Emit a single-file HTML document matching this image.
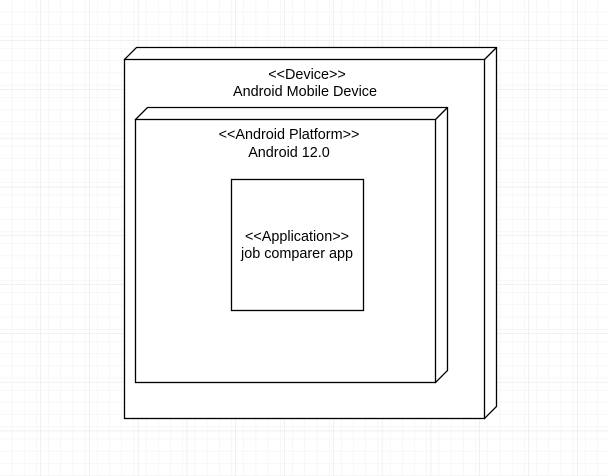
<!DOCTYPE html>
<html><head><meta charset="utf-8"><style>
html,body{margin:0;padding:0;background:#fff;}
svg{display:block;}
text{font-family:"Liberation Sans",Arial,sans-serif;font-size:14.4px;fill:#000;}
</style></head><body>
<svg width="608" height="476" viewBox="0 0 608 476" xmlns="http://www.w3.org/2000/svg">
<defs>
<pattern id="minor" width="12.2" height="12.2" patternUnits="userSpaceOnUse" x="0" y="0">
<path d="M12.2 0V12.2M0 12.2H12.2" stroke="#f0f0f0" stroke-width="1" fill="none"/>
</pattern>
<pattern id="major" width="48.8" height="48.8" patternUnits="userSpaceOnUse" x="-8" y="-8">
<path d="M48.8 0V48.8M0 48.8H48.8" stroke="#e2e2e2" stroke-width="1" fill="none"/>
</pattern>
</defs>
<rect width="608" height="476" fill="#fff"/>
<rect width="608" height="476" fill="url(#minor)"/>
<rect width="608" height="476" fill="url(#major)"/>

<g stroke="#000" stroke-width="1.3" fill="#fff">
<path d="M124.5 59.5 L136.5 47.5 L496.5 47.5 L496.5 406.5 L484.5 418.5 Z"/>
<rect x="124.5" y="59.5" width="360" height="359"/>
<path d="M484.5 59.5 L496.5 47.5" fill="none"/>
</g>
<text x="307" y="79" text-anchor="middle">&lt;&lt;Device&gt;&gt;</text>
<text x="305" y="96" text-anchor="middle">Android Mobile Device</text>

<g stroke="#000" stroke-width="1.3" fill="#fff">
<path d="M135.5 119.5 L147.5 107.5 L447.5 107.5 L447.5 370.5 L435.5 382.5 Z"/>
<rect x="135.5" y="119.5" width="300" height="263"/>
<path d="M435.5 119.5 L447.5 107.5" fill="none"/>
</g>
<text x="289" y="139" text-anchor="middle">&lt;&lt;Android Platform&gt;&gt;</text>
<text x="289" y="157" text-anchor="middle">Android 12.0</text>

<rect x="231.5" y="179.5" width="132" height="131" fill="#fff" stroke="#000" stroke-width="1.3"/>
<text x="297" y="241" text-anchor="middle">&lt;&lt;Application&gt;&gt;</text>
<text x="297" y="258" text-anchor="middle">job comparer app</text>
</svg>
</body></html>
